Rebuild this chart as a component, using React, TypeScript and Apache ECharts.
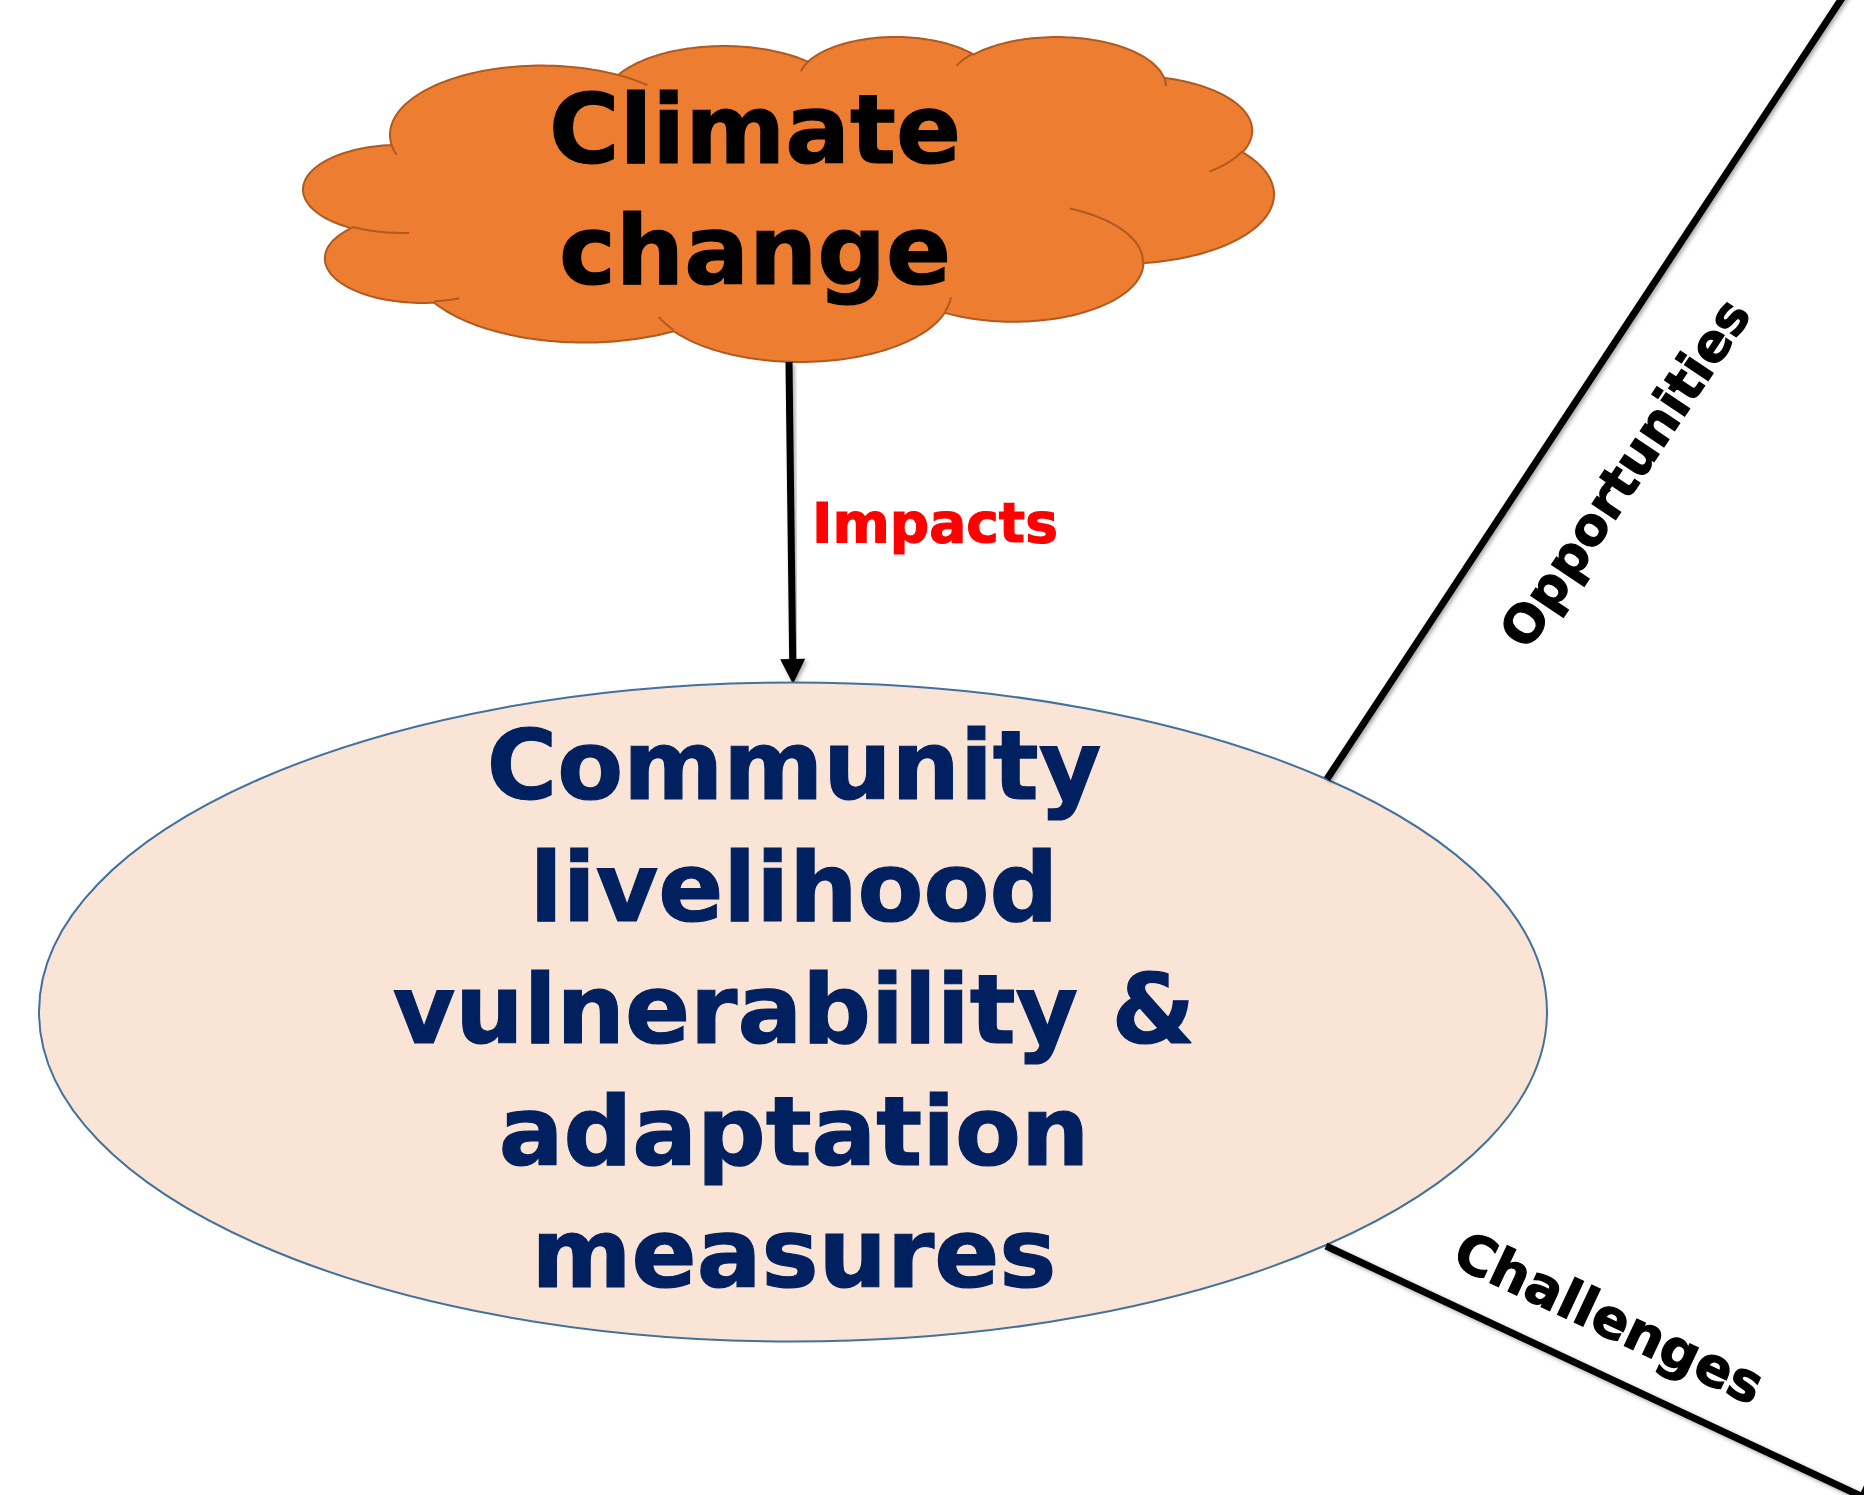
import React, { useEffect, useRef } from 'react';
import * as echarts from 'echarts';

// ---- texts ----
const CLOUD_TITLE = ['Climate', 'change'];
const CENTER_TITLE = ['Community', 'livelihood', 'vulnerability &', 'adaptation', 'measures'];
const LINK_LABELS = ['Impacts', 'Opportunities', 'Challenges'];

// ---- standard "cloud" preset geometry (43200 x 43200 units) ----
const CLOUD_START = [3900, 14370];
const CLOUD_ARCS = [
  [6753, 9190, -11429249, 7426832],
  [5333, 7267, -8646143, 5396714],
  [4365, 5945, -8748475, 5983381],
  [4857, 6595, -7859164, 7034504],
  [5333, 7273, -4722533, 6541615],
  [6775, 9220, -2776035, 7816140],
  [5785, 7867, 37501, 6842000],
  [6752, 9215, 1347096, 6910353],
  [7720, 10543, 3974558, 4542661],
  [4360, 5918, -16496525, 8804134],
  [4345, 5945, -14809710, 9151131],
];
const CLOUD_INNER = [
  [4693, 26177, 4345, 5945, 5204520, 1585770],
  [6928, 34899, 4360, 5918, 4416628, 686848],
  [16478, 39090, 6752, 9215, 8257449, 844866],
  [28827, 34751, 6752, 9215, 387196, 959901],
  [34129, 22954, 5785, 7867, -4217541, 4255042],
  [41798, 15354, 5333, 7273, 1819082, 1665090],
  [38324, 5426, 4857, 6595, -824660, 891534],
  [29078, 3952, 4857, 6595, -8950887, 1091722],
  [22141, 4720, 4365, 5945, -9809656, 1061181],
  [14000, 5192, 6753, 9190, -4002417, 739161],
  [4127, 15789, 6753, 9190, 9459261, 711490],
];

function arcPts(px: number, py: number, wR: number, hR: number, st: number, sw: number, visual: boolean) {
  const s = (st / 60000) * Math.PI / 180;
  const w = (sw / 60000) * Math.PI / 180;
  const par = (a: number) => (visual ? Math.atan2(wR * Math.sin(a), hR * Math.cos(a)) : a);
  const ts = par(s);
  let te = par(s + w);
  if (visual) {
    while (w > 0 && te < ts) te += 2 * Math.PI;
    while (w < 0 && te > ts) te -= 2 * Math.PI;
  }
  const cx = px - wR * Math.cos(ts);
  const cy = py - hR * Math.sin(ts);
  const pts: number[][] = [];
  const n = 60;
  for (let i = 1; i <= n; i++) {
    const t = ts + ((te - ts) * i) / n;
    pts.push([cx + wR * Math.cos(t), cy + hR * Math.sin(t)]);
  }
  return pts;
}

function buildCloud(visual: boolean) {
  let cur = CLOUD_START.slice();
  const pts: number[][] = [cur];
  for (const a of CLOUD_ARCS) {
    const p = arcPts(cur[0], cur[1], a[0], a[1], a[2], a[3], visual);
    pts.push(...p);
    cur = p[p.length - 1];
  }
  const err = Math.hypot(cur[0] - CLOUD_START[0], cur[1] - CLOUD_START[1]);
  const inner = CLOUD_INNER.map((a) => [[a[0], a[1]], ...arcPts(a[0], a[1], a[2], a[3], a[4], a[5], visual)]);
  return { pts, inner, err };
}

export default function App() {
  const ref = useRef<HTMLDivElement>(null);
  useEffect(() => {
    if (!ref.current) return;
    const chart = echarts.init(ref.current, undefined, { renderer: 'svg' });

    const a = buildCloud(true);
    const b = buildCloud(false);
    const cloud = a.err <= b.err ? a : b;
    let minX = Infinity, maxX = -Infinity, minY = Infinity, maxY = -Infinity;
    for (const p of cloud.pts) {
      minX = Math.min(minX, p[0]); maxX = Math.max(maxX, p[0]);
      minY = Math.min(minY, p[1]); maxY = Math.max(maxY, p[1]);
    }
    const L = 303, R = 1274, T = 37, B = 362;
    const map = (p: number[]) => [L + ((p[0] - minX) / (maxX - minX)) * (R - L), T + ((p[1] - minY) / (maxY - minY)) * (B - T)];
    const cloudPts = cloud.pts.map(map);
    const innerPts = cloud.inner.map((arr) => arr.map(map));

    const font = '"DejaVu Sans", Verdana, sans-serif';
    const lineShadow = { shadowBlur: 4, shadowColor: 'rgba(0,0,0,0.35)', shadowOffsetX: 2, shadowOffsetY: 2 };

    // arrow geometry
    const arrow = (x1: number, y1: number, tx: number, ty: number, len: number, half: number) => {
      const d = Math.hypot(tx - x1, ty - y1);
      const ux = (tx - x1) / d, uy = (ty - y1) / d;
      const bx = tx - ux * len, by = ty - uy * len;
      const nx = -uy, ny = ux;
      return {
        line: { x1, y1, x2: bx + ux * 2, y2: by + uy * 2 },
        head: [[tx, ty], [bx + nx * half, by + ny * half], [bx - nx * half, by - ny * half]],
      };
    };
    const a1 = arrow(789, 362, 793, 684, 25, 12.5);
    const a3 = arrow(1326, 1246, 1882, 1506, 25, 12.5);

    const boldText = (color: string) => ({
      fontFamily: font,
      fontWeight: 'bold',
      fill: color,
      stroke: color,
      lineWidth: 1.2,
    });

    const elements: any[] = [
      { type: 'rect', shape: { x: 0, y: 0, width: 1864, height: 1495 }, style: { fill: '#ffffff' }, silent: true },
      {
        type: 'polygon',
        shape: { points: cloudPts },
        style: { fill: '#ED7D31', stroke: '#AE5A21', lineWidth: 2 },
      },
      ...innerPts.map((pts) => ({
        type: 'polyline',
        shape: { points: pts },
        style: { fill: 'none', stroke: '#AE5A21', lineWidth: 2 },
      })),
      {
        type: 'text',
        x: 755,
        y: 190,
        style: {
          text: CLOUD_TITLE.join('\n'),
          ...boldText('#000000'),
          fontSize: 96,
          lineHeight: 121,
          align: 'center',
          verticalAlign: 'middle',
        },
      },
      { type: 'line', shape: a1.line, style: { stroke: '#000000', lineWidth: 7, ...lineShadow } },
      { type: 'polygon', shape: { points: a1.head }, style: { fill: '#000000', ...lineShadow } },
      {
        type: 'text',
        x: 812,
        y: 523,
        style: {
          text: LINK_LABELS[0],
          ...boldText('#FF0000'),
          fontSize: 55,
          align: 'left',
          verticalAlign: 'middle',
        },
      },
      {
        type: 'ellipse',
        shape: { cx: 793, cy: 1012, rx: 754, ry: 329.5 },
        style: { fill: '#FAE4D6', stroke: '#41719C', lineWidth: 2 },
      },
      {
        type: 'text',
        x: 794,
        y: 1010,
        style: {
          text: CENTER_TITLE.join('\n'),
          ...boldText('#002060'),
          fontSize: 96,
          lineHeight: 122,
          align: 'center',
          verticalAlign: 'middle',
        },
      },
      { type: 'line', shape: { x1: 1327, y1: 779, x2: 1846, y2: -8 }, style: { stroke: '#000000', lineWidth: 7, ...lineShadow } },
      { type: 'line', shape: a3.line, style: { stroke: '#000000', lineWidth: 7, ...lineShadow } },
      { type: 'polygon', shape: { points: a3.head }, style: { fill: '#000000', ...lineShadow } },
      {
        type: 'text',
        x: 1625,
        y: 473,
        rotation: Math.atan2(779, 519),
        style: {
          text: LINK_LABELS[1],
          ...boldText('#000000'),
          fontSize: 52,
          align: 'center',
          verticalAlign: 'middle',
        },
      },
      {
        type: 'text',
        x: 1609,
        y: 1318,
        rotation: -Math.atan2(259, 554),
        style: {
          text: LINK_LABELS[2],
          ...boldText('#000000'),
          fontSize: 54,
          align: 'center',
          verticalAlign: 'middle',
        },
      },
    ];

    chart.setOption({
      animation: false,
      backgroundColor: '#ffffff',
      graphic: { elements },
    });
    return () => chart.dispose();
  }, []);

  return <div ref={ref} style={{ position: 'fixed', left: 0, top: 0, width: 1864, height: 1495 }} />;
}
